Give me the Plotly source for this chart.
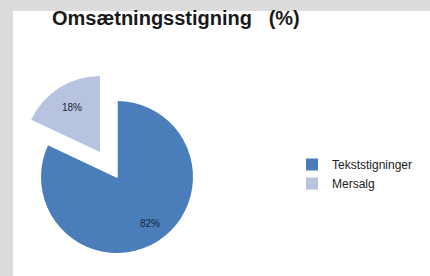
import plotly.graph_objects as go

W, H = 430, 276

title_text = "Omsætningsstigning\u00a0\u00a0\u00a0(%)"
categories = ["Tekststigninger", "Mersalg"]
values = [82, 18]
colors = ["#4a7ebb", "#b7c3df"]

def px_dom(x0, x1, y0, y1):
    return dict(x=[x0 / W, x1 / W], y=[1 - y1 / H, 1 - y0 / H])

main_dom = px_dom(41, 193, 101, 253)
pulled_dom = px_dom(24, 176, 76, 228)

common = dict(labels=categories, values=values, sort=False, direction="clockwise",
              rotation=0, textinfo="none", hoverinfo="label+percent")

fig = go.Figure()
# full pie (provides legend)
fig.add_trace(go.Pie(**common, domain=main_dom,
                     marker=dict(colors=colors, line=dict(width=0)), showlegend=True))
# blank out the original position of the exploded slice
fig.add_trace(go.Pie(**common, domain=main_dom, showlegend=False,
                     marker=dict(colors=["rgba(0,0,0,0)", "white"],
                                 line=dict(color=["rgba(0,0,0,0)", "white"], width=[0, 1.5]))))
# exploded slice
fig.add_trace(go.Pie(**common, domain=pulled_dom, showlegend=False,
                     marker=dict(colors=["rgba(0,0,0,0)", colors[1]], line=dict(width=0))))

# percentage labels
label_pos = [(150, 223), (72, 108)]
total = sum(values)
for v, (lx, ly) in zip(values, label_pos):
    fig.add_annotation(x=lx / W, y=1 - ly / H, xref="paper", yref="paper",
                       xanchor="center", yanchor="middle",
                       text=f"{round(100 * v / total)}%", showarrow=False,
                       font=dict(family="Liberation Sans", size=10, color="#1b2538"))

fig.add_annotation(x=50 / W, y=1 - 18 / H, xref="paper", yref="paper", xanchor="left",
                   yanchor="middle", text=f"<b>{title_text}</b>", showarrow=False,
                   font=dict(family="Liberation Sans", size=20, color="#1a1a1a"))

fig.update_layout(
    width=W, height=H,
    margin=dict(l=0, r=0, t=0, b=0),
    paper_bgcolor="#dcdcdc",
    plot_bgcolor="white",
    shapes=[dict(type="rect", xref="paper", yref="paper", x0=13 / W, x1=1, y0=0, y1=1 - 11 / H,
                 fillcolor="white", line=dict(width=0), layer="below")],
    legend=dict(x=292 / W, y=1 - 174 / H, xanchor="left", yanchor="middle",
                bgcolor="rgba(0,0,0,0)",
                font=dict(family="Liberation Sans", size=12, color="#222222")),
)

fig.write_html("out.html", config={"displayModeBar": False},
               post_script="document.body.style.margin='0';document.body.style.overflow='hidden';")
